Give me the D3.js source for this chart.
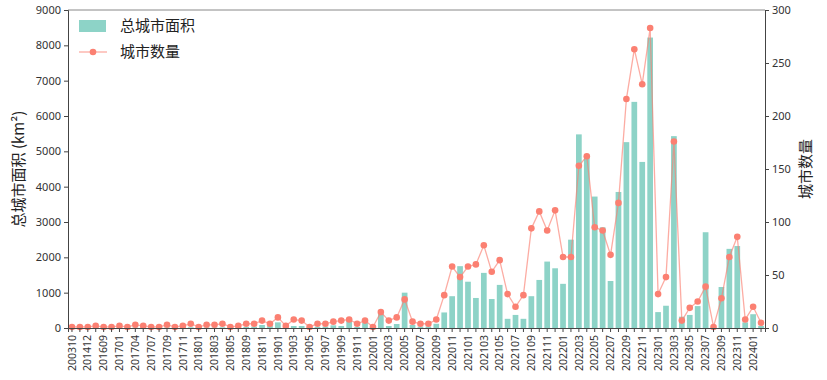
<!DOCTYPE html>
<html><head><meta charset="utf-8">
<script src="https://cdn.jsdelivr.net/npm/d3@7"></script>
<style>body{margin:0;background:#fff}svg{display:block}</style>
</head><body><div id="chart"></div>
<script>
const categories = ["200310","201406","201412","201506","201609","201611","201701","201703","201704","201706",
"201707","201708","201709","201710","201711","201712","201801","201802","201803","201804","201805","201807",
"201809","201810","201811","201812","201901","201902","201903","201904","201905","201906","201907","201908",
"201909","201910","201911","201912","202001","202002","202003","202004","202005","202006","202007","202008",
"202009","202010","202011","202012","202101","202102","202103","202104","202105","202106","202107","202108",
"202109","202110","202111","202112","202201","202202","202203","202204","202205","202206","202207","202208",
"202209","202210","202211","202212","202301","202302","202303","202304","202305","202306","202307","202308",
"202309","202310","202311","202312","202401","202402"];
const totalArea = [5,3,4,10,5,5,10,5,15,10,5,5,15,5,10,20,5,15,15,20,5,10,
30,40,85,57,160,10,57,57,10,30,40,75,57,198,30,142,5,396,57,113,1000,85,40,40,
120,440,900,1750,1310,850,1560,820,1220,260,370,260,900,1360,1880,1690,1250,2500,
5480,4850,3720,2850,1330,3850,5260,6400,4700,8220,450,630,5430,320,370,620,2710,10,
1160,2240,2320,160,390,60];
const cityCount = [1,1,1,2,1,1,2,1,3,2,1,1,3,1,2,4,1,3,3,4,1,2,
4,4,7,4,10,2,8,7,1,4,4,6,7,8,4,7,1,15,7,10,27,6,4,4,
8,31,58,48,58,60,78,53,64,32,20,31,94,110,92,111,67,67,
153,162,95,92,69,118,216,263,230,283,32,48,176,7,19,25,39,1,
28,67,86,8,20,5];
const leftTicks = [0,1000,2000,3000,4000,5000,6000,7000,8000,9000];
const rightTicks = [0,50,100,150,200,250,300];
const seriesNames = ["总城市面积","城市数量"];
const axisTitles = ["总城市面积 (km²)","城市数量"];

const W = 827, H = 380;
const m = {l:68, r:62, t:10, b:52};
const barColor = "#8dd3c7", lineColor = "#fb8072";
const font = "'Noto Sans','Noto Sans CJK SC',sans-serif";

const svg = d3.select("#chart").append("svg").attr("width",W).attr("height",H)
  .style("font-family",font);

const x = d3.scaleBand().domain(categories).range([m.l, W-m.r]).paddingInner(0.28).paddingOuter(0.14);
const yL = d3.scaleLinear().domain([0,9000]).range([H-m.b, m.t]);
const yR = d3.scaleLinear().domain([0,300]).range([H-m.b, m.t]);

// bars
svg.append("g").selectAll("rect").data(categories).join("rect")
  .attr("x", d=>x(d)).attr("width", x.bandwidth())
  .attr("y", (d,i)=>yL(totalArea[i])).attr("height",(d,i)=>yL(0)-yL(totalArea[i]))
  .attr("fill", barColor);

// line
const cx = d => x(d)+x.bandwidth()/2;
svg.append("path").datum(categories)
  .attr("d", d3.line().x(d=>cx(d)).y((d,i)=>yR(cityCount[i])))
  .attr("fill","none").attr("stroke",lineColor).attr("stroke-opacity",0.65).attr("stroke-width",1.3);
svg.append("g").selectAll("circle").data(categories).join("circle")
  .attr("cx", d=>cx(d)).attr("cy",(d,i)=>yR(cityCount[i])).attr("r",3.3)
  .attr("fill",lineColor);

// frame
const axisColor = "#444";
svg.append("line").attr("x1",m.l).attr("x2",W-m.r).attr("y1",m.t).attr("y2",m.t).attr("stroke","#888");

// axes
const gL = svg.append("g").attr("transform",`translate(${m.l},0)`)
  .call(d3.axisLeft(yL).tickValues(leftTicks).tickFormat(d3.format("d")).tickSize(4).tickPadding(3));
const gR = svg.append("g").attr("transform",`translate(${W-m.r},0)`)
  .call(d3.axisRight(yR).tickValues(rightTicks).tickFormat(d3.format("d")).tickSize(4).tickPadding(3));
const gX = svg.append("g").attr("transform",`translate(0,${H-m.b})`)
  .call(d3.axisBottom(x).tickSize(4).tickPadding(3).tickFormat((d,i)=> i%2===0 ? d : ""));
[gL,gR,gX].forEach(g=>{
  g.selectAll("path.domain").attr("stroke",axisColor);
  g.selectAll(".tick line").attr("stroke",axisColor);
  g.selectAll("text").attr("fill","#333").style("font-size","11px").style("font-family",font);
});
gX.selectAll(".tick text")
  .attr("transform","rotate(-90)").attr("text-anchor","end")
  .attr("x",-7).attr("y",0).attr("dy","0.35em").style("font-size","10.5px");

// axis titles
svg.append("text").attr("transform",`translate(24,${(m.t+H-m.b)/2}) rotate(-90)`)
  .attr("text-anchor","middle").attr("font-size","15px").attr("fill","#222")
  .style("font-family","'Noto Sans CJK SC',sans-serif").text(axisTitles[0]);
svg.append("text").attr("transform",`translate(811,${(m.t+H-m.b)/2}) rotate(-90)`)
  .attr("text-anchor","middle").attr("font-size","15px").attr("fill","#222")
  .style("font-family","'Noto Sans CJK SC',sans-serif").text(axisTitles[1]);

// legend
const lg = svg.append("g");
lg.append("rect").attr("x",79).attr("y",20).attr("width",27).attr("height",12).attr("fill",barColor);
lg.append("text").attr("x",120).attr("y",26).attr("dy","0.35em").attr("font-size","15px").attr("fill","#222")
  .style("font-family","'Noto Sans CJK SC',sans-serif").text(seriesNames[0]);
lg.append("line").attr("x1",79).attr("x2",107).attr("y1",52).attr("y2",52)
  .attr("stroke",lineColor).attr("stroke-opacity",0.65).attr("stroke-width",1.3);
lg.append("circle").attr("cx",93).attr("cy",52).attr("r",3.3).attr("fill",lineColor);
lg.append("text").attr("x",120).attr("y",52).attr("dy","0.35em").attr("font-size","15px").attr("fill","#222")
  .style("font-family","'Noto Sans CJK SC',sans-serif").text(seriesNames[1]);
</script></body></html>
